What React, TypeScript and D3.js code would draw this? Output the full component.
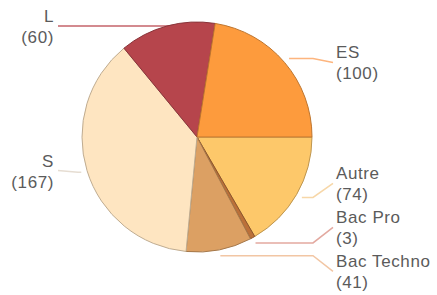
import React from "react";
import * as d3 from "d3";

const categories = ["Autre", "Bac Pro", "Bac Techno", "S", "L", "ES"];
const values = [74, 3, 41, 167, 60, 100];
const colors = ["#fdc86a", "#bb7039", "#dca063", "#fee5c1", "#b6454c", "#fd9b3d"];
const lineColors = ["#f7d7a8", "#e3a9a0", "#f2c6a4", "#e6ddd2", "#c4636a", "#fdb57e"];

const W = 437;
const H = 295;
const CX = 197;
const CY = 137;
const R = 115;
const LINE_H = 21;
const LABEL_GAP = 44;

type Lab = { i: number; side: number; ideal: number; y: number; px: number; py: number };

function relax(labels: Lab[]) {
  const sorted = [...labels].sort((a, b) => a.ideal - b.ideal);
  let groups: Lab[][] = sorted.map((l) => [l]);
  let changed = true;
  const pos = (g: Lab[]) => {
    const mean = d3.mean(g, (d) => d.ideal) as number;
    const start = mean - ((g.length - 1) * LABEL_GAP) / 2;
    return g.map((_, k) => start + k * LABEL_GAP);
  };
  while (changed) {
    changed = false;
    for (let k = 0; k < groups.length - 1; k++) {
      const a = pos(groups[k]);
      const b = pos(groups[k + 1]);
      if (b[0] - a[a.length - 1] < LABEL_GAP) {
        groups[k] = groups[k].concat(groups[k + 1]);
        groups.splice(k + 1, 1);
        changed = true;
        break;
      }
    }
  }
  groups.forEach((g) => {
    const p = pos(g);
    g.forEach((l, k) => (l.y = p[k]));
  });
}

export default function App() {
  const pie = d3
    .pie<number>()
    .sort(null)
    .startAngle(Math.PI / 2)
    .endAngle(Math.PI / 2 + 2 * Math.PI)
    .value((d) => d);
  const arcs = pie(values);
  const arc = d3.arc<d3.PieArcDatum<number>>().innerRadius(0).outerRadius(R);

  const labels: Lab[] = arcs.map((a, i) => {
    const mid = (a.startAngle + a.endAngle) / 2;
    const side = Math.sin(mid) >= 0 ? 1 : -1;
    return {
      i,
      side,
      ideal: CY - R * Math.cos(mid),
      y: 0,
      px: CX + (R + 6) * Math.sin(mid),
      py: CY - (R + 6) * Math.cos(mid),
    };
  });
  relax(labels.filter((l) => l.side === 1));
  relax(labels.filter((l) => l.side === -1));

  return (
    <svg
      width={W}
      height={H}
      style={{ position: "absolute", left: 0, top: 0, background: "#fff" }}
      fontFamily="'Liberation Sans', Arial, sans-serif"
    >
      <g>
        {labels.map((l) => {
          const endX = l.side === 1 ? 333 : 58;
          let pts: [number, number][];
          if (l.side === -1 && l.px > endX + 20 && Math.abs(l.py - CY) > R * 0.8) {
            // near the top: run horizontally along the label row to the pie edge
            const edgeX = CX - Math.sqrt(Math.max(0, R * R - (l.y - CY) ** 2)) + 10;
            pts = [
              [edgeX, l.y],
              [endX, l.y],
            ];
          } else {
            const elbowX =
              l.side === 1 ? Math.max(l.px, endX - 20) : Math.min(l.px, endX + 20);
            pts = [
              [l.px, l.py],
              [elbowX, l.py],
              [endX, l.y],
            ];
          }
          return (
            <path
              key={"line" + l.i}
              d={d3.line()(pts) as string}
              fill="none"
              stroke={lineColors[l.i]}
              strokeWidth={1.5}
            />
          );
        })}
      </g>
      <g transform={`translate(${CX},${CY})`}>
        {arcs.map((a, i) => (
          <path
            key={categories[i]}
            d={arc(a) as string}
            fill={colors[i]}
            stroke={d3.color(colors[i])!.darker(0.8).formatHex()}
            strokeWidth={1}
          />
        ))}
      </g>
      <g fill="#5b5b5b" fontSize={17} letterSpacing={0.6}>
        {labels.map((l) => {
          const x = l.side === 1 ? 336 : 54;
          return (
            <text
              key={"t" + l.i}
              x={x}
              y={l.y - 4}
              textAnchor={l.side === 1 ? "start" : "end"}
            >
              <tspan x={x}>{categories[l.i]}</tspan>
              <tspan x={x} dy={LINE_H}>{`(${values[l.i]})`}</tspan>
            </text>
          );
        })}
      </g>
    </svg>
  );
}
